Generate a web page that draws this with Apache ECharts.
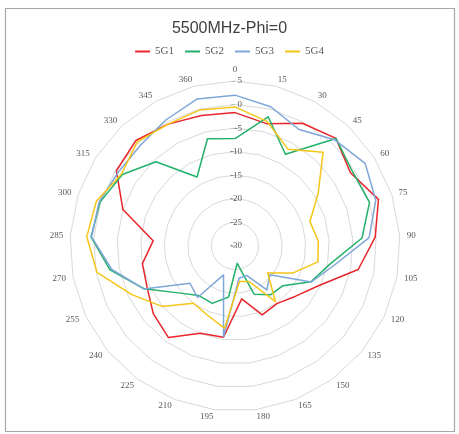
<!DOCTYPE html>
<html><head><meta charset="utf-8">
<script src="https://cdn.jsdelivr.net/npm/echarts@6/dist/echarts.min.js"></script>
<style>html,body{margin:0;padding:0;background:#fff}#c{width:459px;height:434px}</style>
</head><body><div id="c"></div>
<script>
const angleLabels = ['0','15','30','45','60','75','90','105','120','135','150','165','180','195','210','225','240','255','270','285','300','315','330','345','360'];
const seriesNames = ['5G1','5G2','5G3','5G4'];
const g1 = [-1.7,-3.2,-0.3,1.3,-1.0,2.0,-0.2,-3.4,-10.3,-13.3,-14.9,-14.3,-18.7,-10.5,-10.1,-6.0,-7.5,-9.4,-10.0,-12.6,-5.0,-0.2,0.7,-0.5,-1.4];
const g2 = [-7.2,-1.7,-7.8,1.3,-0.5,0.0,-3.0,-9.5,-12.2,-16.8,-17.2,-19.0,-26.3,-19.1,-16.9,-17.0,-14.4,-8.7,-3.0,0.6,0.1,-1.7,-5.5,-13.3,-6.5];
const g3 = [2.0,0.5,-1.8,0.9,2.7,1.4,-1.5,-8.5,-12.1,-20.4,-18.5,-23.3,-23.1,-10.6,-23.4,-16.5,-17.6,-8.6,-3.4,0.5,0.3,-0.7,-0.7,0.5,2.2];
const g4 = [-0.5,-2.7,-6.6,-2.7,-9.1,-13.3,-12.3,-12.1,-16.5,-21.0,-15.4,-21.9,-22.4,-12.4,-14.2,-15.0,-9.9,-5.8,-0.2,1.5,0.9,-1.5,0.3,-0.5,-0.2];
const rMin = -30, rMax = 5;
const colors = ['#e8262b','#22b06a','#7ea6d8','#f5c518'];

// radar runs counter-clockwise; reorder so the chart reads clockwise
const order = [0];
for (let i = angleLabels.length - 1; i >= 1; i--) order.push(i);
const indicator = order.map((i, n) => {
  const o = {name: angleLabels[i], min: rMin, max: rMax};
  if (n === 0) {
    o.axisLabel = {show: true, color: '#595959', fontSize: 9, fontFamily: 'Liberation Serif', margin: -7, align: 'right'};
    o.axisTick = {show: true, length: 4, inside: true, lineStyle: {color: '#bfbfbf'}};
  }
  return o;
});
const all = [g1, g2, g3, g4];
const chart = echarts.init(document.getElementById('c'), null, {renderer: 'canvas'});
chart.setOption({
  animation: false,
  backgroundColor: '#fff',
  title: {text: '5500MHz-Phi=0', left: 'center', top: 16,
    textStyle: {fontSize: 16, fontWeight: 'normal', color: '#404040', fontFamily: 'Liberation Sans'}},
  legend: {top: 41, left: 'center', itemWidth: 15, itemHeight: 2, itemGap: 11, icon: 'rect',
    textStyle: {fontSize: 11, color: '#595959', fontFamily: 'Liberation Serif'},
    data: seriesNames},
  graphic: [{type: 'rect', shape: {x: 5.5, y: 8.5, width: 449, height: 423},
    style: {fill: 'none', stroke: '#a6a6a6', lineWidth: 1.2}, silent: true}],
  radar: {
    center: [235, 246], radius: 165, startAngle: 90, shape: 'polygon', splitNumber: 7,
    indicator: indicator,
    axisName: {color: '#595959', fontSize: 9, fontFamily: 'Liberation Serif'},
    nameGap: 7,
    axisLine: {show: false},
    axisTick: {show: false},
    axisLabel: {show: false},
    splitLine: {lineStyle: {color: '#d9d9d9', width: 1}},
    splitArea: {show: false}
  },
  series: [{
    type: 'radar', symbol: 'none',
    data: all.map((arr, s) => ({
      name: seriesNames[s],
      value: order.map(i => arr[i]),
      lineStyle: {color: colors[s], width: 1.5},
      itemStyle: {color: colors[s]}
    }))
  }]
});
</script></body></html>
